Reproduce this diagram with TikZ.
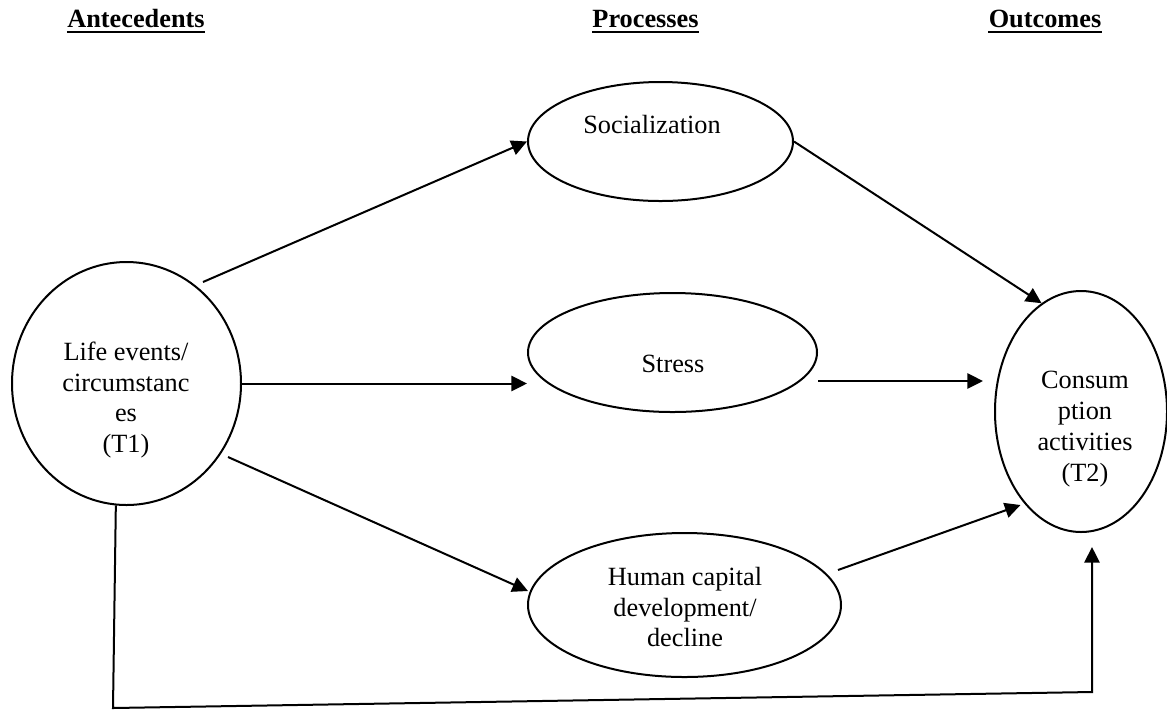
\documentclass[tikz,border=0pt]{standalone}
\usepackage{fontspec}
\setmainfont{Liberation Serif}
\usetikzlibrary{shapes.geometric,arrows.meta,calc}
\begin{document}
\begin{tikzpicture}[x=0.5pt,y=-0.5pt,
  every node/.style={font=\fontsize{13.15pt}{15.4pt}\selectfont},
  oval/.style={draw, ellipse, line width=1pt, inner sep=0pt},
  lbl/.style={align=center, inner sep=0pt},
  hdr/.style={font=\fontsize{13.15pt}{15.4pt}\selectfont\bfseries, inner sep=0pt, anchor=base},
  uline/.style={line width=1.1pt},
  arr/.style={line width=1pt, -{Triangle[length=7.8pt,width=7.6pt]}},
  ln/.style={line width=1pt}]
\useasboundingbox (0,0) rectangle (1167,709);
% headers
\node[hdr] (h1) at (136,27) {Antecedents};
\node[hdr] (h2) at (645.5,27) {Processes};
\node[hdr] (h3) at (1045,27) {Outcomes};
\foreach \h in {h1,h2,h3}{
  \draw[uline] ($(\h.base west)+(0,5)$) -- ($(\h.base east)+(0,5)$);
}
% ellipses
\node[oval, minimum width=114.5pt, minimum height=121.5pt] (life) at (126.5,383.5) {};
\node[oval, minimum width=132.5pt, minimum height=59.5pt] (soc) at (660.5,141.5) {};
\node[oval, minimum width=144.5pt, minimum height=59.5pt] (stress) at (672.5,352.5) {};
\node[oval, minimum width=156.5pt, minimum height=72pt] (hum) at (684.5,605) {};
\node[oval, minimum width=86pt, minimum height=120.5pt] (out) at (1081,411.5) {};
% texts
\node[lbl] (lifeT) at (126,400) {Life events/\\circumstanc\\es\\(T1)};
\node[lbl] (socT) at (652,124) {Socialization};
\node[lbl] (strT) at (673,364) {Stress};
\node[lbl] (humT) at (685,607) {Human capital\\development/\\decline};
\node[lbl] (outT) at (1085,429) {Consum\\ption\\activities\\(T2)};
% connectors
\draw[arr] ($(life.center)+(76.5,-101.5)$) -- (soc.west);
\draw[arr] (life.east) -- (life.east -| stress.west);
\draw[arr] ($(life.center)+(101.5,73.5)$) -- ($(hum.center)+(-156.5,-14)$);
\draw[arr] (soc.east) -- (out.110);
\draw[arr] ($(stress.east)+(0,28.5)$) -- ($(stress.east -| out.west)+(-11,28.5)$);
\draw[arr] ($(hum.center)+(153.5,-35)$) -- ($(out.center)+(-60.5,93.5)$);
\coordinate (b1) at (113,708);
\coordinate (b2) at (1092,692);
\coordinate (b3) at (1092,547);
\draw[arr] (life.-95) -- (b1) -- (b2) -- (b3);
\end{tikzpicture}
\end{document}
